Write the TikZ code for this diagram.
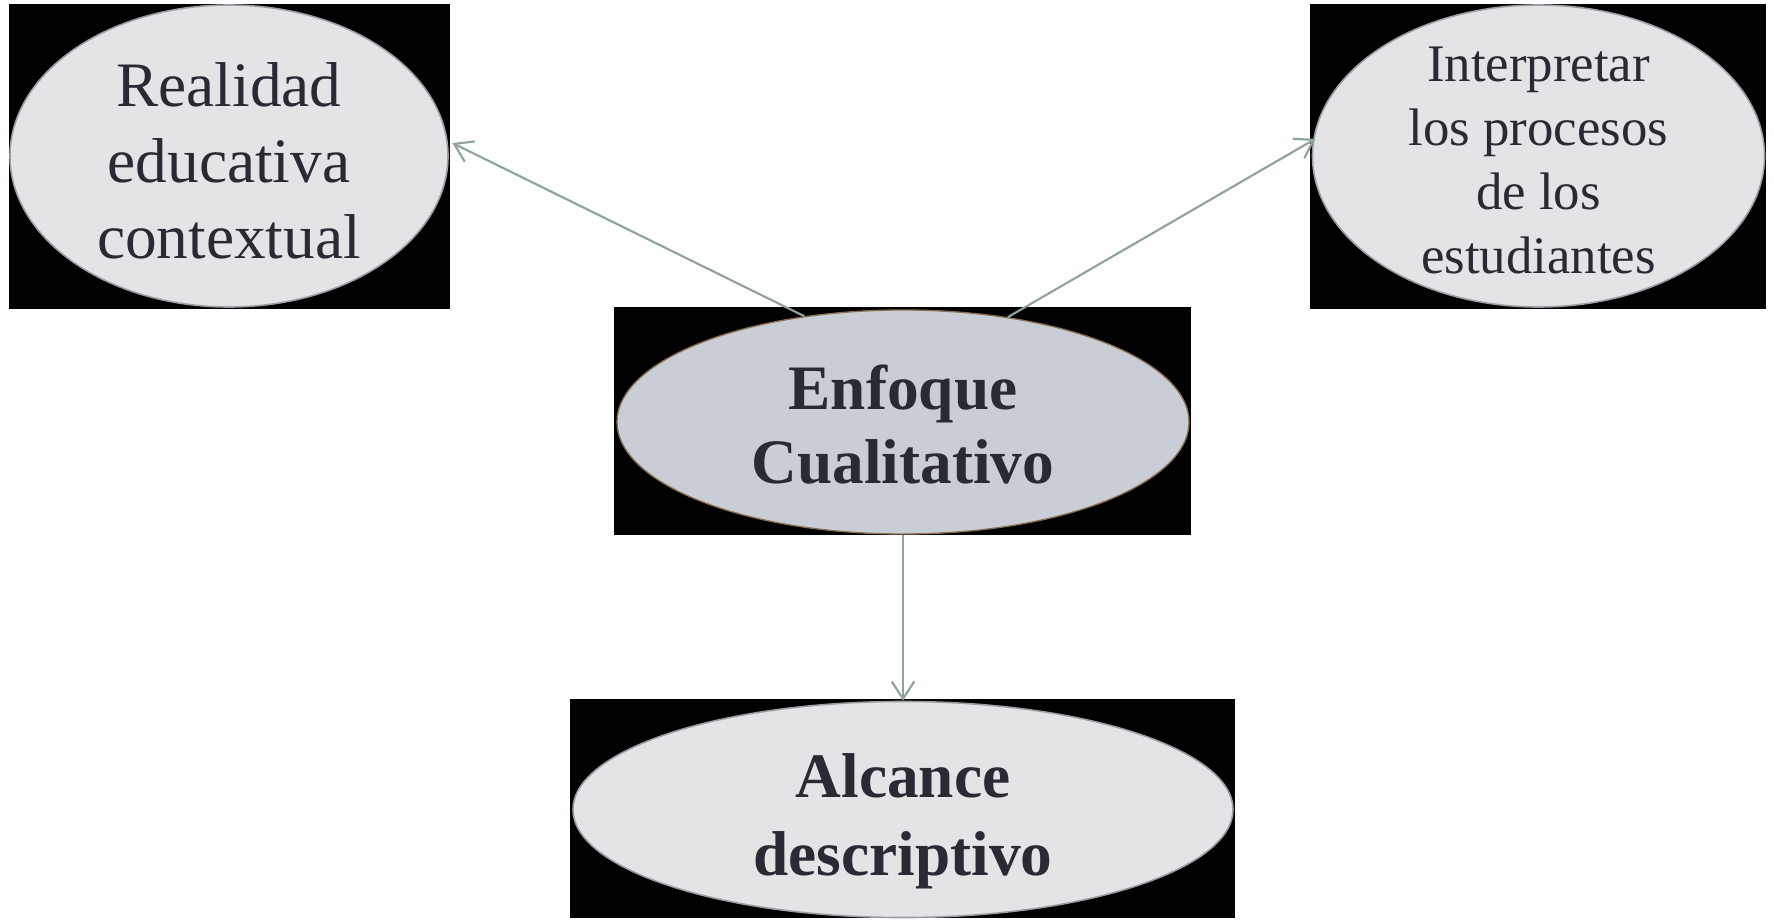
\documentclass[tikz,border=0pt]{standalone}
\usepackage{fontspec}
\setmainfont{Liberation Serif}
\usetikzlibrary{shapes.geometric,arrows.meta}
\definecolor{ellfill}{HTML}{E3E4E6}
\definecolor{cenfill}{HTML}{C9CED6}
\definecolor{ellrim}{HTML}{9A9EA4}
\definecolor{cenrim}{HTML}{8A7050}
\definecolor{txt}{HTML}{2A2A35}
\definecolor{arr}{HTML}{8FA39A}
\tikzset{
  ell/.style={ellipse, inner sep=0pt, fill=ellfill, draw=ellrim, line width=1.2pt},
  cen/.style={ell, fill=cenfill, draw=cenrim, line width=1pt},
  labreg/.style={text=txt, align=center, font=\fontsize{47.5}{57}\selectfont},
  labsm/.style={text=txt, align=center, font=\fontsize{39.6}{48}\selectfont},
  labbold/.style={text=txt, align=center, font=\fontsize{47.5}{55}\selectfont\bfseries},
  labboldb/.style={text=txt, align=center, font=\fontsize{47.5}{58.5}\selectfont\bfseries},
  conn/.style={draw=arr, line width=1.6pt, -{Straight Barb[length=13pt,width=17pt,line width=1.6pt]}},
}
\begin{document}
\begin{tikzpicture}[x=0.75pt,y=-0.75pt]
\fill[white] (0,0) rectangle (1774,920);
% black backgrounds
\fill[black] (9,4) rectangle (450,309);
\fill[black] (1310,4) rectangle (1766,309);
\fill[black] (614,307) rectangle (1191,535);
\fill[black] (570,699) rectangle (1235,918);
% ellipses
\node[ell, minimum width=328.5pt, minimum height=226.5pt,
  label={[labreg, yshift=-3.5pt]center:{Realidad\\educativa\\contextual}}] (l) at (229,156) {};
\node[ell, minimum width=339pt, minimum height=226.5pt,
  label={[labsm, yshift=-3.5pt]center:{Interpretar\\los procesos\\de los\\estudiantes}}] (r) at (1538.5,156) {};
\node[cen, minimum width=429pt, minimum height=168pt,
  label={[labbold, yshift=-2pt]center:{Enfoque\\Cualitativo}}] (c) at (903,422) {};
\node[ell, minimum width=495pt, minimum height=162pt,
  label={[labboldb, yshift=-9pt]center:{Alcance\\descriptivo}}] (b) at (903,809.5) {};
% connectors
\draw[conn, shorten >=4pt] (c.133) -- (l.4);
\draw[conn, shorten >=-2pt] (c.45) -- (r.176);
\draw[conn] (c.south) -- (b.north);
\end{tikzpicture}
\end{document}
